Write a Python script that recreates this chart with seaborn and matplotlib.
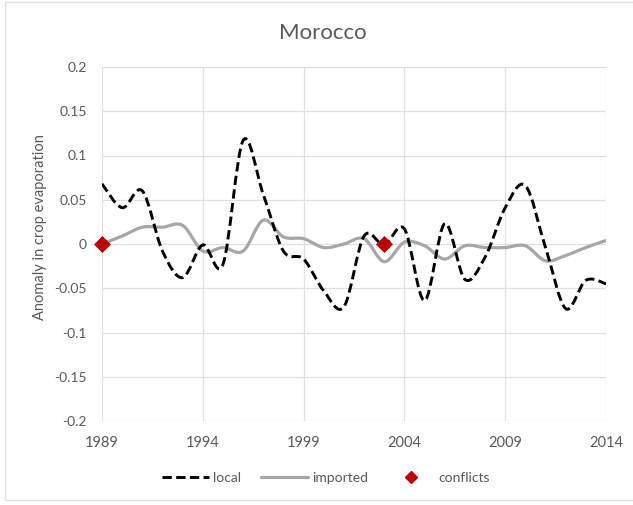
import matplotlib

matplotlib.use("Agg")

import matplotlib.pyplot as plt
import numpy as np
import seaborn as sns
from matplotlib.lines import Line2D
from matplotlib.patches import PathPatch, Rectangle
from matplotlib.path import Path

# values
years = list(range(1989, 2015))
local = [0.068, 0.041, 0.060, -0.008, -0.038, -0.001, -0.023, 0.117, 0.056, -0.008,
         -0.017, -0.053, -0.071, 0.009, -0.001, 0.017, -0.064, 0.023, -0.040, -0.015,
         0.041, 0.066, -0.004, -0.073, -0.041, -0.045]
imported = [0.0, 0.009, 0.019, 0.019, 0.021, -0.008, -0.004, -0.008, 0.027, 0.008,
            0.006, -0.004, 0.0, 0.006, -0.020, 0.002, -0.002, -0.017, -0.002, -0.004,
            -0.004, -0.002, -0.019, -0.013, -0.004, 0.004]
conflict_years = [1989, 2003]
conflict_values = [0.0, 0.0]
x_ticks = [1989, 1994, 1999, 2004, 2009, 2014]
y_ticks = [-0.2, -0.15, -0.1, -0.05, 0, 0.05, 0.1, 0.15, 0.2]
y_labels = ["-0.2", "-0.15", "-0.1", "-0.05", "0", "0.05", "0.1", "0.15", "0.2"]

TEXT = "#595959"
GRID = "#e0e0e0"
DASH = (0, (3.2, 1.5))


def smooth_path(xs, ys):
    """Excel-like smoothed line: cubic Bezier segments through every data point."""
    pts = np.column_stack([xs, ys]).astype(float)
    n = len(pts)
    verts = [pts[0]]
    codes = [Path.MOVETO]
    for i in range(n - 1):
        p0 = pts[max(i - 1, 0)]
        p1 = pts[i]
        p2 = pts[i + 1]
        p3 = pts[min(i + 2, n - 1)]
        verts += [p1 + (p2 - p0) / 6, p2 - (p3 - p1) / 6, p2]
        codes += [Path.CURVE4] * 3
    return Path(verts, codes)


sns.set_theme(style="white")
plt.rcParams["font.family"] = ["Lato", "DejaVu Sans"]

fig = plt.figure(figsize=(6.33, 5.05), dpi=100)
ax = fig.add_axes([102 / 633, 1 - 421 / 505, 504 / 633, 354 / 505])

ax.add_patch(PathPatch(smooth_path(years, imported), fill=False, edgecolor="#a6a6a6",
                       lw=2.3, capstyle="round", joinstyle="round", zorder=3))
ax.add_patch(PathPatch(smooth_path(years, local), fill=False, edgecolor="black",
                       lw=2.1, linestyle=DASH, zorder=4))
sns.scatterplot(x=conflict_years, y=conflict_values, marker="D", s=75, color="#c00000",
                edgecolor="#c00000", linewidth=0, zorder=5, clip_on=False, ax=ax)

ax.set_xlim(1989, 2014)
ax.set_ylim(-0.2, 0.2)
ax.set_xticks(x_ticks)
ax.set_yticks(y_ticks)
ax.set_yticklabels(y_labels)
ax.grid(True, color=GRID, lw=0.9)
for s in ax.spines.values():
    s.set_visible(False)
ax.tick_params(axis="x", length=0, pad=11, labelsize=10.5, labelcolor=TEXT)
ax.tick_params(axis="y", length=0, pad=11, labelsize=10, labelcolor=TEXT)

fig.text(323 / 633, 1 - 33 / 505, "Morocco", ha="center", va="center", fontsize=16, color=TEXT)
fig.text(40 / 633, 1 - 227 / 505, "Anomaly in crop evaporation", rotation=90,
         ha="center", va="center", fontsize=10.5, color=TEXT)

handles = [
    Line2D([], [], color="black", lw=2.1, linestyle=DASH),
    Line2D([], [], color="#a6a6a6", lw=2.3),
    Line2D([], [], color="#c00000", marker="D", markersize=6, linestyle="none"),
]
fig.legend(handles, ["local", "imported", "conflicts"], loc="center",
           bbox_to_anchor=(326 / 633, 1 - 478 / 505), ncol=3, frameon=False,
           fontsize=10, labelcolor=TEXT, handlelength=3.4, handletextpad=0.3,
           columnspacing=1.4)

fig.patches.append(Rectangle((5 / 633, 5 / 505), 640 / 633, 498 / 505, transform=fig.transFigure,
                             fill=False, edgecolor=GRID, lw=1))

fig.savefig("out.png", dpi=100)
